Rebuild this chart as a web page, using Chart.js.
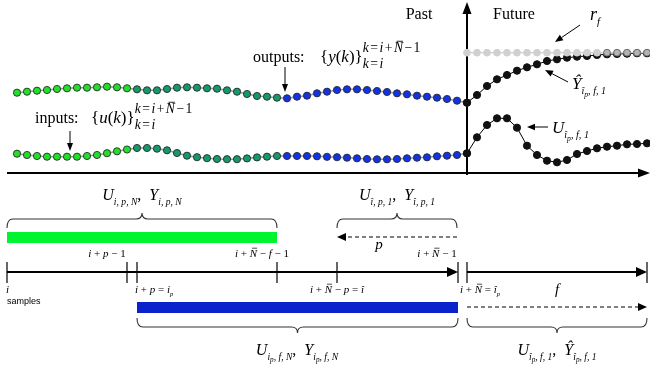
<!DOCTYPE html>
<html>
<head>
<meta charset="utf-8">
<script src="https://cdn.jsdelivr.net/npm/chart.js@4/dist/chart.umd.min.js"></script>
<style>
  html, body { margin: 0; padding: 0; background: #fff; }
  #wrap { width: 650px; height: 369px; }
</style>
</head>
<body>
<div id="wrap"><canvas id="chart" width="650" height="369"></canvas></div>
<script>
// sample index k of every dot
const samplesPast = [0, 1, 2, 3, 4, 5, 6, 7, 8, 9, 10, 11, 12, 13, 14, 15, 16, 17, 18, 19, 20, 21, 22,
    23, 24, 25, 26, 27, 28, 29, 30, 31, 32, 33, 34, 35, 36, 37, 38, 39, 40, 41, 42, 43, 44, 45];
const samplesFuture = [45, 46, 47, 48, 49, 50, 51, 52, 53, 54, 55, 56, 57, 58, 59, 60, 61, 62, 63];

// measured signals (past) and predicted ones (future)
const outputsPast = [8.23, 8.33, 8.43, 8.5, 8.6, 8.67, 8.73, 8.73, 8.77, 8.83, 8.77, 8.67, 8.57, 8.47, 8.47,
    8.6, 8.73, 8.77, 8.73, 8.67, 8.63, 8.47, 8.33, 8.1, 7.9, 7.83, 7.73, 7.67, 7.83, 7.93, 8.17, 8.33,
    8.5, 8.57, 8.57, 8.5, 8.4, 8.3, 8.17, 8.07, 7.93, 7.83, 7.73, 7.6, 7.43, 7.23];
const inputsPast = [2.13, 2.0, 1.9, 1.83, 1.83, 1.83, 1.83, 1.9, 2.0, 2.18, 2.37, 2.55, 2.7, 2.7, 2.63,
    2.47, 2.2, 1.93, 1.78, 1.68, 1.6, 1.58, 1.58, 1.66, 1.76, 1.83, 1.9, 1.9, 1.9, 1.9, 1.87, 1.82,
    1.78, 1.73, 1.67, 1.6, 1.57, 1.57, 1.6, 1.67, 1.73, 1.77, 1.87, 1.93, 2.0, 2.17];
const outputsFuture = [7.23, 8.0, 8.9, 9.57, 10.0, 10.43, 10.77, 11.07, 11.4, 11.57, 11.73, 11.83, 11.9,
    12.0, 12.07, 12.1, 12.13, 12.17, 12.17];
const inputsFuture = [2.17, 3.77, 5.0, 5.67, 5.67, 4.73, 2.93, 2.0, 1.43, 1.27, 1.5, 2.1, 2.4, 2.67,
    2.83, 2.93, 3.07, 3.1, 3.17];
const referenceFuture = [12.23, 12.23, 12.23, 12.23, 12.23, 12.23, 12.23, 12.23, 12.23, 12.23, 12.23,
    12.23, 12.23, 12.23, 12.23, 12.23, 12.23, 12.23, 12.23];

// window sizes on the sample axis
const iStart = -1, p = 13, Nbar = 46, f = 18;
const ip = iStart + p;               // i + p = i_p
const iNf1 = iStart + Nbar - f - 1;  // end of the green block
const iHat = iStart + Nbar - p;      // i + N - p = i^
const iN1 = iStart + Nbar - 1;       // i + N - 1
const iHatP = iStart + Nbar;         // i + N = i^_p

const GREEN = '#22e02a', TEAL = '#14996a', BLUE = '#1232e6';

function pastColor(ctx) {
    const k = samplesPast[ctx.dataIndex];
    if (k < ip) return GREEN;
    if (k <= iNf1) return TEAL;
    return BLUE;
}
function refFill(ctx) {
    const n = ctx.dataIndex;
    return Math.abs(outputsFuture[n] - referenceFuture[n]) < 0.2 ? '#b4b4b4' : '#d0d0d0';
}
function refBorder(ctx) {
    const n = ctx.dataIndex;
    return Math.abs(outputsFuture[n] - referenceFuture[n]) < 0.2 ? '#6a6a6a' : '#d0d0d0';
}

const toPts = (xs, ys) => xs.map((k, n) => ({ x: k, y: ys[n] }));

// ---------- little drawing helpers ----------
const SERIF = '"Liberation Serif", "DejaVu Serif", serif';
function font(size, italic) { return (italic ? 'italic ' : '') + size + 'px ' + SERIF; }
const R = (t, o) => Object.assign({ t: t }, o || {});
const I = (t, o) => Object.assign({ t: t, i: true }, o || {});
const SUB = { s: 0.6, dy: 0.3 };
const SUB2 = { s: 0.45, dy: 0.45 };
const SM = { s: 0.8 };
const SMG = { s: 0.8, gap: 1.5 };

function runWidth(c, r, base) {
    if (r.stack) return Math.max(...r.stack.map(s => seqWidth(c, s, base)));
    c.font = font(base * (r.s || 1), r.i);
    return c.measureText(r.t).width + (r.gap || 0);
}
function seqWidth(c, runs, base) { return runs.reduce((w, r) => w + runWidth(c, r, base), 0); }
function drawSeq(c, x, y, runs, base) {
    for (const r of runs) {
        if (r.stack) {
            drawSeq(c, x, y + r.dy[0] * base, r.stack[0], base);
            drawSeq(c, x, y + r.dy[1] * base, r.stack[1], base);
            x += runWidth(c, r, base);
            continue;
        }
        const sz = base * (r.s || 1);
        const yy = y + (r.dy || 0) * base;
        c.font = font(sz, r.i);
        c.fillText(r.t, x, yy);
        const w = c.measureText(r.t).width;
        if (r.bar) {
            c.beginPath();
            c.lineWidth = Math.max(0.7, sz / 16);
            c.moveTo(x + w * 0.3, yy - sz * 0.8);
            c.lineTo(x + w * 1.0, yy - sz * 0.8);
            c.stroke();
        }
        x += w + (r.gap || 0);
    }
}
function label(c, x, y, runs, base, align) {
    let w = seqWidth(c, runs, base);
    let x0 = align === 'center' ? x - w / 2 : x;
    drawSeq(c, x0, y, runs, base);
}
function arrow(c, x1, y1, x2, y2, o) {
    o = o || {};
    const hl = o.head || 9, hw = o.half || 3.5;
    const a = Math.atan2(y2 - y1, x2 - x1);
    const bx = x2 - hl * Math.cos(a), by = y2 - hl * Math.sin(a);
    c.beginPath();
    c.lineWidth = o.lw || 1;
    c.setLineDash(o.dash || []);
    c.moveTo(x1, y1);
    c.lineTo(bx, by);
    c.stroke();
    c.setLineDash([]);
    c.beginPath();
    c.moveTo(x2, y2);
    c.lineTo(bx + hw * Math.sin(a), by - hw * Math.cos(a));
    c.lineTo(bx - hw * Math.sin(a), by + hw * Math.cos(a));
    c.closePath();
    c.fill();
}
function seg(c, x1, y1, x2, y2, lw) {
    c.beginPath(); c.lineWidth = lw; c.moveTo(x1, y1); c.lineTo(x2, y2); c.stroke();
}
// curly brace; yEdge = ends, yMid = long stroke, yTip = middle tip
function brace(c, x1, x2, yEdge, yMid, yTip) {
    const xm = (x1 + x2) / 2, r = 6;
    c.beginPath();
    c.lineWidth = 1.1;
    c.moveTo(x1, yEdge);
    c.quadraticCurveTo(x1, yMid, x1 + r, yMid);
    c.lineTo(xm - r, yMid);
    c.quadraticCurveTo(xm, yMid, xm, yTip);
    c.quadraticCurveTo(xm, yMid, xm + r, yMid);
    c.lineTo(x2 - r, yMid);
    c.quadraticCurveTo(x2, yMid, x2, yEdge);
    c.stroke();
}

function UY(subA, subB, hatY) {
    return [I('U')].concat(subA, [R(',  ')], [I(hatY ? 'Ŷ' : 'Y')], subB);
}
const subIPN = [I('i, p, N', SUB)];
const subHatP1 = [I('î, p, 1', SUB)];
const subIpFN = [I('i', SUB), I('p', SUB2), I(', f, N', SUB)];
const subHatpF1 = [I('î', SUB), I('p', SUB2), I(', f, 1', SUB)];
const seqSup = [I('k', SMG), R('=', SMG), I('i', SMG), R('+', SMG), I('N', Object.assign({ bar: 1 }, SMG)),
    R('−', SMG), R('1', SM)];
const seqSub = [I('k', SMG), R('=', SMG), I('i', SM)];

const diagram = {
    id: 'diagram',
    beforeDatasetsDraw(chart) {
        const c = chart.ctx, X = chart.scales.x;
        const xa = X.getPixelForValue(iHatP);
        c.save();
        c.strokeStyle = '#000'; c.fillStyle = '#000';
        arrow(c, X.getPixelForValue(iStart), 173, 650, 173, { lw: 2, head: 12, half: 4.5 });
        arrow(c, xa, 175, xa, 2, { lw: 2, head: 12, half: 4.5 });
        c.restore();
    },
    afterDraw(chart) {
        const c = chart.ctx, X = chart.scales.x;
        const px = k => X.getPixelForValue(k);
        const xa = px(iHatP);
        c.save();
        c.fillStyle = '#000'; c.strokeStyle = '#000';
        c.textBaseline = 'alphabetic';

        // top part
        label(c, xa - 48, 19, [R('Past')], 16, 'center');
        label(c, xa + 47, 19, [R('Future')], 16, 'center');
        label(c, 590, 20, [I('r'), I('f', SUB)], 18, 'left');
        arrow(c, 580, 25, 555, 42, { lw: 1, head: 8, half: 3.2 });

        label(c, 253, 62, [R('outputs:')], 16, 'left');
        label(c, 320, 62, [R('{'), I('y'), R('('), I('k'), R(')}'),
            { stack: [seqSup, seqSub], dy: [-0.58, 0.36] }], 17, 'left');
        arrow(c, 285, 67, 285, 92, { lw: 1, head: 8, half: 3 });
        label(c, 35, 123, [R('inputs:')], 16, 'left');
        label(c, 91, 123, [R('{'), I('u'), R('('), I('k'), R(')}'),
            { stack: [seqSup, seqSub], dy: [-0.58, 0.36] }], 17, 'left');
        arrow(c, 70, 131, 70, 151, { lw: 1, head: 8, half: 3 });

        label(c, 572, 89, [I('Ŷ')].concat(subHatpF1), 17, 'left');
        arrow(c, 568, 82, 545, 70, { lw: 1, head: 8, half: 3.2 });
        label(c, 552, 133, [I('U')].concat(subHatpF1), 17, 'left');
        arrow(c, 548, 127, 527, 127, { lw: 1, head: 8, half: 3.2 });

        // upper window
        c.strokeStyle = '#333';
        brace(c, px(iStart), px(iNf1), 228, 219, 213);
        brace(c, px(iHat), px(iN1), 228, 219, 213);
        c.fillStyle = '#000';
        label(c, (px(iStart) + px(iNf1)) / 2, 200, UY(subIPN, subIPN), 16, 'center');
        label(c, (px(iHat) + px(iN1)) / 2, 200, UY(subHatP1, subHatP1), 16, 'center');

        c.fillStyle = '#00f530';
        c.fillRect(px(iStart), 232, px(iNf1) - px(iStart), 11);
        c.fillStyle = '#000'; c.strokeStyle = '#000';
        arrow(c, px(iN1), 237, px(iHat), 237, { lw: 1.1, dash: [4, 3], head: 9, half: 4 });
        label(c, (px(iHat) + px(iN1)) / 2 - 18, 249, [I('p')], 15, 'center');

        label(c, px(ip - 1) - 20, 257, [I('i'), R(' + '), I('p'), R(' − 1')], 11, 'center');
        label(c, px(iNf1) - 15, 257, [I('i'), R(' + '), I('N', { bar: 1 }), R(' − '), I('f'), R(' − 1')], 11, 'center');
        label(c, px(iN1) - 20, 257, [I('i'), R(' + '), I('N', { bar: 1 }), R(' − 1')], 11, 'center');

        // sample line
        const yl = 272;
        arrow(c, px(iStart), yl, px(iN1) + 1, yl, { lw: 2, head: 11, half: 5 });
        arrow(c, px(iHatP), yl, px(iHatP + f), yl, { lw: 2, head: 11, half: 5 });
        [iStart, ip - 1, ip, iNf1, iHat, iN1 + 0.1, iHatP, iHatP + f].forEach(k => {
            seg(c, px(k), 262, px(k), 283, 1.2);
        });

        label(c, px(iStart) - 1, 293, [I('i')], 11, 'left');
        c.font = '9px "Liberation Sans", Arial, sans-serif';
        c.fillText('samples', px(iStart), 304);
        label(c, px(ip) - 2, 293, [I('i'), R(' + '), I('p'), R(' = '), I('i'), I('p', SUB)], 11, 'left');
        label(c, px(iHat), 293, [I('i'), R(' + '), I('N', { bar: 1 }), R(' − '), I('p'), R(' = '), I('î')], 11, 'center');
        label(c, px(iHatP) - 7, 293, [I('i'), R(' + '), I('N', { bar: 1 }), R(' = '), I('î'), I('p', SUB)], 11, 'left');
        label(c, (px(iHatP) + px(iHatP + f)) / 2, 294, [I('f')], 15, 'center');

        // lower window
        c.fillStyle = '#0a22cc';
        c.fillRect(px(ip), 302, px(iN1) + 1 - px(ip), 11);
        c.fillStyle = '#000';
        arrow(c, px(iHatP), 307, px(iHatP + f), 307, { lw: 1.1, dash: [4, 3], head: 9, half: 4 });
        c.strokeStyle = '#333';
        brace(c, px(ip), px(iN1) + 1, 318, 327, 333);
        brace(c, px(iHatP), px(iHatP + f), 318, 327, 333);
        c.fillStyle = '#000';
        label(c, (px(ip) + px(iN1)) / 2, 355, UY(subIpFN, subIpFN), 16, 'center');
        label(c, (px(iHatP) + px(iHatP + f)) / 2, 355, UY(subHatpF1, subHatpF1, true), 16, 'center');
        c.restore();
    }
};

new Chart(document.getElementById('chart'), {
    type: 'line',
    data: {
        datasets: [
            {
                label: 'r_f',
                data: toPts(samplesFuture, referenceFuture),
                borderColor: '#cfcfcf', borderWidth: 1.2,
                pointBackgroundColor: refFill, pointBorderColor: refBorder,
                pointBorderWidth: 1, pointRadius: 3.4
            },
            {
                label: 'Y future',
                data: toPts(samplesFuture, outputsFuture),
                borderColor: '#000', borderWidth: 1,
                pointBackgroundColor: '#111', pointBorderColor: '#111', pointRadius: 3.6
            },
            {
                label: 'U future',
                data: toPts(samplesFuture, inputsFuture),
                borderColor: '#000', borderWidth: 1,
                pointBackgroundColor: '#111', pointBorderColor: '#111', pointRadius: 3.6
            },
            {
                label: 'outputs',
                data: toPts(samplesPast, outputsPast),
                borderColor: '#9a9a9a', borderWidth: 1.6,
                pointBackgroundColor: pastColor, pointBorderColor: '#2a2a2a',
                pointBorderWidth: 0.9, pointRadius: 3.6
            },
            {
                label: 'inputs',
                data: toPts(samplesPast, inputsPast),
                borderColor: '#9a9a9a', borderWidth: 1.6,
                pointBackgroundColor: pastColor, pointBorderColor: '#2a2a2a',
                pointBorderWidth: 0.9, pointRadius: 3.6
            }
        ]
    },
    options: {
        responsive: false,
        animation: false,
        devicePixelRatio: 1,
        layout: { padding: 0, autoPadding: false },
        elements: { line: { tension: 0 } },
        datasets: { line: { clip: false } },
        plugins: { legend: { display: false }, tooltip: { enabled: false } },
        scales: {
            x: { type: 'linear', display: false, min: -1.7, max: 63.3 },
            y: { display: false, min: -19.4, max: 17.5 }
        }
    },
    plugins: [diagram]
});
</script>
</body>
</html>
